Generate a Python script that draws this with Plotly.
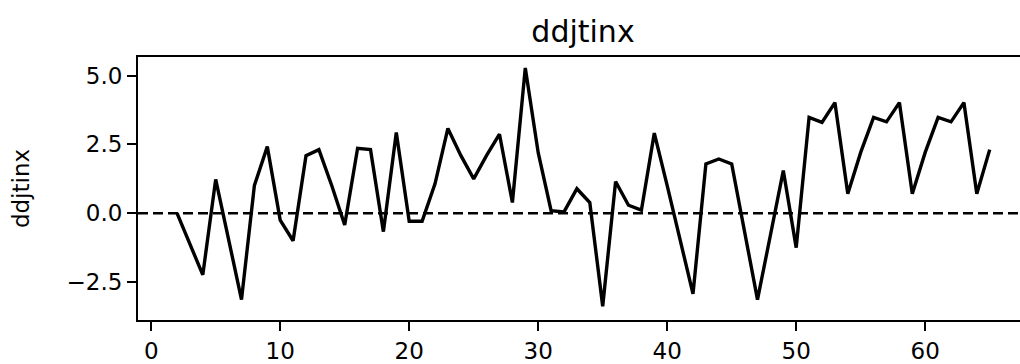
import plotly.graph_objects as go

x_vals = list(range(2, 66))
y_vals = [0.0, -1.1, -2.24, 1.23, -0.95, -3.14, 1.01, 2.42, -0.25, -1.0,
          2.09, 2.31, 1.0, -0.43, 2.36, 2.31, -0.67, 2.93, -0.29, -0.29,
          1.07, 3.08, 2.1, 1.25, 2.1, 2.87, 0.39, 5.28, 2.2, 0.09,
          0.05, 0.89, 0.39, -3.38, 1.15, 0.29, 0.11, 2.91, 1.0, -0.95,
          -2.93, 1.79, 1.97, 1.79, -0.67, -3.14, -0.8, 1.55, -1.25, 3.48,
          3.3, 4.02, 0.71, 2.21, 3.48, 3.32, 4.02, 0.71, 2.21, 3.48,
          3.32, 4.02, 0.71, 2.31]
title_text = "ddjtinx"
ylabel_text = "ddjtinx"
x_ticks = [0, 10, 20, 30, 40, 50, 60]
y_ticks = [-2.5, 0.0, 2.5, 5.0]

FONT = "DejaVu Sans"

fig = go.Figure()
fig.add_trace(go.Scatter(x=x_vals, y=y_vals, mode="lines",
                         line=dict(color="black", width=3.4),
                         showlegend=False, hoverinfo="skip"))
fig.add_hline(y=0, line=dict(color="black", width=2.4, dash="10px,5px"))

fig.update_layout(
    width=1020, height=364,
    margin=dict(l=138, r=0, t=57, b=42, pad=0),
    paper_bgcolor="white", plot_bgcolor="white",
    font=dict(family=FONT, color="black", size=23),
    title=dict(text=title_text, x=583/1020, xref="container", xanchor="center",
               y=1 - 31/364, yref="container", yanchor="middle",
               font=dict(family=FONT, size=30, color="black")),
)
fig.update_xaxes(
    range=[(138 - 151.2) / 12.9, (1020 - 151.2) / 12.9],
    tickmode="array", tickvals=x_ticks, ticktext=[str(t) for t in x_ticks],
    showgrid=False, zeroline=False,
    showline=True, linecolor="black", linewidth=2, mirror=True,
    ticks="outside", ticklen=9, tickwidth=2, tickcolor="black",
    tickfont=dict(family=FONT, size=23, color="black"),
)
fig.update_yaxes(
    range=[-3.88, 5.676],
    tickmode="array", tickvals=y_ticks,
    ticktext=[("\u2212" if t < 0 else "") + f"{abs(t):.1f}" for t in y_ticks],
    showgrid=False, zeroline=False,
    showline=True, linecolor="black", linewidth=2,
    ticks="outside", ticklen=9, tickwidth=2, tickcolor="black",
    tickfont=dict(family=FONT, size=23, color="black"),
    title=dict(text=ylabel_text, font=dict(family=FONT, size=23, color="black"), standoff=30),
)

fig.write_html("out.html")
